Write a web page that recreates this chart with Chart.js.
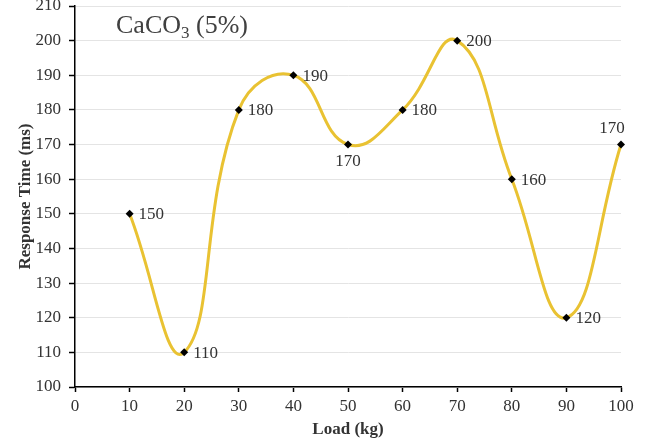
<!DOCTYPE html>
<html>
<head>
<meta charset="utf-8">
<script src="https://cdn.jsdelivr.net/npm/chart.js@4"></script>
<style>
  html, body { margin: 0; padding: 0; background: #fff; }
  #wrap { width: 651px; height: 441px; }
</style>
</head>
<body>
<div id="wrap"><canvas id="chart"></canvas></div>
<script>
// load (kg) against response time (ms)
const loads = [10, 20, 30, 40, 50, 60, 70, 80, 90, 100];
const responseTimes = [150, 110, 180, 190, 170, 180, 200, 160, 120, 170];
// where each value label sits relative to its point
const labelSide = ['right', 'right', 'right', 'right', 'below', 'right', 'right', 'right', 'right', 'above'];

const serif = '"Liberation Serif", "Times New Roman", serif';
const textColor = '#333';

// value labels beside each marker
const valueLabels = {
  id: 'valueLabels',
  afterDatasetsDraw(chart) {
    const ctx = chart.ctx;
    const meta = chart.getDatasetMeta(0);
    ctx.save();
    ctx.font = '17px ' + serif;
    ctx.fillStyle = textColor;
    meta.data.forEach((pt, i) => {
      const txt = String(responseTimes[i]);
      const side = labelSide[i];
      if (side === 'right') {
        ctx.textAlign = 'left';
        ctx.textBaseline = 'middle';
        ctx.fillText(txt, pt.x + 9, pt.y + 1);
      } else if (side === 'below') {
        ctx.textAlign = 'center';
        ctx.textBaseline = 'top';
        ctx.fillText(txt, pt.x, pt.y + 8);
      } else {
        ctx.textAlign = 'center';
        ctx.textBaseline = 'bottom';
        ctx.fillText(txt, pt.x - 9, pt.y - 8);
      }
    });
    ctx.restore();
  }
};

// "CaCO3 (5%)" heading with subscript
const heading = {
  id: 'heading',
  afterDraw(chart) {
    const ctx = chart.ctx;
    ctx.save();
    ctx.fillStyle = '#404040';
    ctx.textBaseline = 'alphabetic';
    ctx.textAlign = 'left';
    let x = 116, y = 33;
    ctx.font = '26px ' + serif;
    ctx.fillText('CaCO', x, y);
    x += ctx.measureText('CaCO').width;
    ctx.font = '17px ' + serif;
    ctx.fillText('3', x, y + 5);
    x += ctx.measureText('3').width;
    ctx.font = '26px ' + serif;
    ctx.fillText(' (5%)', x, y);
    ctx.restore();
  }
};

new Chart(document.getElementById('chart'), {
  type: 'line',
  data: {
    labels: loads,
    datasets: [{
      data: loads.map((x, i) => ({ x: x, y: responseTimes[i] })),
      borderColor: '#E9C232',
      borderWidth: 3,
      tension: 0.45,
      pointStyle: 'rectRot',
      pointRadius: 4,
      pointBackgroundColor: '#000',
      pointBorderColor: '#000',
      pointBorderWidth: 0,
      clip: false,
    }]
  },
  options: {
    responsive: true,
    maintainAspectRatio: false,
    animation: false,
    layout: { padding: { top: 6, right: 30, bottom: 0, left: 0 } },
    plugins: {
      legend: { display: false },
      tooltip: { enabled: false },
    },
    scales: {
      x: {
        type: 'linear',
        min: 0,
        max: 100,
        ticks: {
          stepSize: 10,
          color: textColor,
          font: { family: serif, size: 17 },
          padding: 4,
        },
        grid: {
          drawOnChartArea: false,
          tickColor: '#000',
          tickLength: 5,
          tickWidth: 1.5,
        },
        border: { color: '#000', width: 1.5 },
        title: {
          display: true,
          text: 'Load (kg)',
          color: textColor,
          font: { family: serif, size: 17, weight: 'bold' },
          padding: { top: 0, bottom: 1 },
        },
        afterFit(scale) { scale.height = 54; },
      },
      y: {
        min: 100,
        max: 210,
        ticks: {
          stepSize: 10,
          color: textColor,
          font: { family: serif, size: 17 },
          padding: 8,
        },
        grid: {
          color: '#e4e4e4',
          lineWidth: 1,
          tickColor: '#000',
          tickLength: 6,
          tickWidth: 1.5,
        },
        border: { color: '#000', width: 1.5 },
        title: {
          display: true,
          text: 'Response Time (ms)',
          color: textColor,
          font: { family: serif, size: 17, weight: 'bold' },
          padding: { top: 15, bottom: 0 },
        },
        afterFit(scale) {
          scale.width = 75;
          scale.paddingTop = 0;
          scale.paddingBottom = 0;
        },
      }
    }
  },
  plugins: [valueLabels, heading]
});
</script>
</body>
</html>
